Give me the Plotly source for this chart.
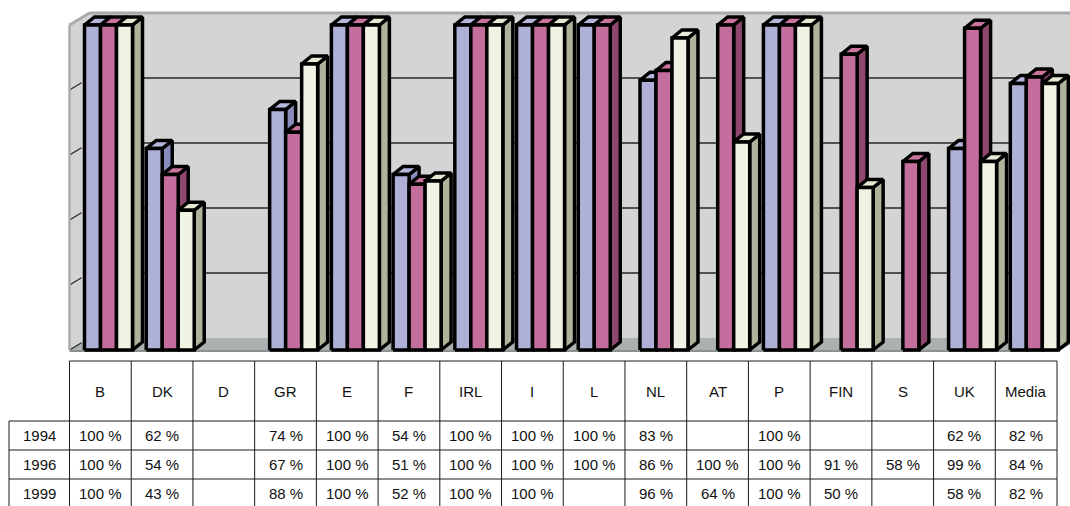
import plotly.graph_objects as go

# ---- data -------------------------------------------------------------
categories = ["B", "DK", "D", "GR", "E", "F", "IRL", "I", "L", "NL",
              "AT", "P", "FIN", "S", "UK", "Media"]
years = ["1994", "1996", "1999"]
v1994 = [100, 62, None, 74, 100, 54, 100, 100, 100, 83, None, 100, None, None, 62, 82]
v1996 = [100, 54, None, 67, 100, 51, 100, 100, 100, 86, 100, 100, 91, 58, 99, 84]
v1999 = [100, 43, None, 88, 100, 52, 100, 100, None, 96, 64, 100, 50, None, 58, 82]
series = [v1994, v1996, v1999]

# ---- styling ----------------------------------------------------------
W, H = 1070, 506
CAT_PX = 61.72      # width of one category column in pixels
LEFT_PX = 69.5      # left edge of the first category
PCT_PX = 3.25       # pixels per percentage point (front plane)
BASE_PX = 350       # 0 % on the front plane


def cx(px):
    return (px - LEFT_PX) / CAT_PX


def cy(py):
    return (BASE_PX - py) / PCT_PX


FRONT = ["#AEB0D7", "#C46E9E", "#F0F3E4"]
TOP = ["#B4B6DB", "#C8749F", "#E6E9D4"]
SIDE = ["#8A8CBE", "#8E476E", "#AEB39C"]

SLOT0 = 15 / CAT_PX          # gap before first bar of a group
BAR_W = 16 / CAT_PX          # bar width
DX = 10 / CAT_PX             # bar depth, horizontal
DY = 8 / PCT_PX              # bar depth, vertical
WALL_DX = 20 / CAT_PX        # wall depth, horizontal
WALL_DY = 12 / PCT_PX        # wall depth, vertical
OUTLINE = 3.5

fig = go.Figure()


def poly(xs, ys, fill):
    fig.add_trace(go.Scatter(
        x=xs + [xs[0]], y=ys + [ys[0]], mode="lines", fill="toself",
        fillcolor=fill, line=dict(color="black", width=OUTLINE),
        hoverinfo="skip", showlegend=False))


# bars, painted left to right so right-hand bars cover left sides
for ci, cat in enumerate(categories):
    for si, vals in enumerate(series):
        v = vals[ci]
        if v is None:
            continue
        l = ci + SLOT0 + si * BAR_W
        r = l + BAR_W
        poly([r, r + DX, r + DX, r], [0, DY, v + DY, v], SIDE[si])
        poly([l, r, r + DX, l + DX], [v, v, v + DY, v + DY], TOP[si])
        poly([l, r, r, l], [0, 0, v, v], FRONT[si])

shapes = []


def path(pts):
    return "M " + " L ".join(f"{x},{y}" for x, y in pts) + " Z"


# walls and floor
right_edge = len(categories)
shapes.append(dict(type="path", layer="below",
                   path=path([(WALL_DX, WALL_DY), (right_edge + WALL_DX, WALL_DY),
                              (right_edge + WALL_DX, 100 + WALL_DY), (WALL_DX, 100 + WALL_DY)]),
                   fillcolor="#D3D5D4", line=dict(width=0)))
shapes.append(dict(type="path", layer="below",
                   path=path([(0, 0), (WALL_DX, WALL_DY), (WALL_DX, 100 + WALL_DY), (0, 100)]),
                   fillcolor="#D1D4D3", line=dict(width=0)))
shapes.append(dict(type="path", layer="below",
                   path=path([(0, 0), (right_edge, 0), (right_edge + WALL_DX, WALL_DY), (WALL_DX, WALL_DY)]),
                   fillcolor="#ABB1B0", line=dict(width=0)))
# gridlines on the back and left walls
for g in [20, 40, 60, 80]:
    shapes.append(dict(type="line", layer="below", x0=WALL_DX, x1=right_edge + WALL_DX,
                       y0=g + WALL_DY, y1=g + WALL_DY, line=dict(color="#262626", width=1.4)))
for g in [0, 20, 40, 60, 80]:
    shapes.append(dict(type="line", layer="below", x0=0, x1=WALL_DX * 0.6,
                       y0=g, y1=g + WALL_DY * 0.6, line=dict(color="#262626", width=1.2)))
# wall edges
shapes.append(dict(type="line", layer="below", x0=WALL_DX, x1=right_edge + WALL_DX,
                   y0=100 + WALL_DY, y1=100 + WALL_DY, line=dict(color="#A7ACAB", width=3)))
shapes.append(dict(type="line", layer="below", x0=0, x1=WALL_DX,
                   y0=100, y1=100 + WALL_DY, line=dict(color="#A7ACAB", width=3)))
shapes.append(dict(type="line", layer="below", x0=0, x1=0,
                   y0=0, y1=100, line=dict(color="#A7ACAB", width=2.5)))
shapes.append(dict(type="line", layer="below", x0=0, x1=right_edge,
                   y0=cy(351), y1=cy(351), line=dict(color="#8A9190", width=2)))
shapes.append(dict(type="line", layer="below", x0=right_edge, x1=right_edge + WALL_DX,
                   y0=cy(351), y1=cy(351) + WALL_DY, line=dict(color="#8A9190", width=2)))

# data table grid
TBL_TOP, HDR_BOT = cy(361), cy(421)
ROW_Y = [cy(421), cy(450), cy(479), cy(508)]
LABEL_L = cx(9)
TL = dict(color="#1a1a1a", width=1)
shapes.append(dict(type="line", x0=0, x1=right_edge, y0=TBL_TOP, y1=TBL_TOP, line=TL))
for yy in ROW_Y:
    shapes.append(dict(type="line", x0=LABEL_L, x1=right_edge, y0=yy, y1=yy, line=TL))
for k in range(len(categories) + 1):
    shapes.append(dict(type="line", x0=k, x1=k, y0=TBL_TOP, y1=ROW_Y[-1], line=TL))
shapes.append(dict(type="line", x0=LABEL_L, x1=LABEL_L, y0=ROW_Y[0], y1=ROW_Y[-1], line=TL))

FONT = dict(family="Liberation Sans, Arial, sans-serif", size=15, color="#111111")
annotations = []
for ci, cat in enumerate(categories):
    annotations.append(dict(x=ci + 0.5, y=cy(391), text=cat, showarrow=False,
                            xanchor="center", yanchor="middle", font=FONT))
for ri, (yr, vals) in enumerate(zip(years, series)):
    ymid = (ROW_Y[ri] + ROW_Y[ri + 1]) / 2
    annotations.append(dict(x=(LABEL_L + 0) / 2, y=ymid, text=yr, showarrow=False,
                            xanchor="center", yanchor="middle", font=FONT))
    for ci, v in enumerate(vals):
        if v is None:
            continue
        annotations.append(dict(x=ci + 0.5, y=ymid, text=f"{v} %", showarrow=False,
                                xanchor="center", yanchor="middle", font=FONT))

fig.update_layout(
    width=W, height=H, margin=dict(l=0, r=0, t=0, b=0),
    paper_bgcolor="white", plot_bgcolor="white",
    xaxis=dict(range=[cx(0), cx(W)], visible=False, fixedrange=True),
    yaxis=dict(range=[cy(H), cy(0)], visible=False, fixedrange=True),
    shapes=shapes, annotations=annotations, showlegend=False,
)

fig.write_html("out.html")
